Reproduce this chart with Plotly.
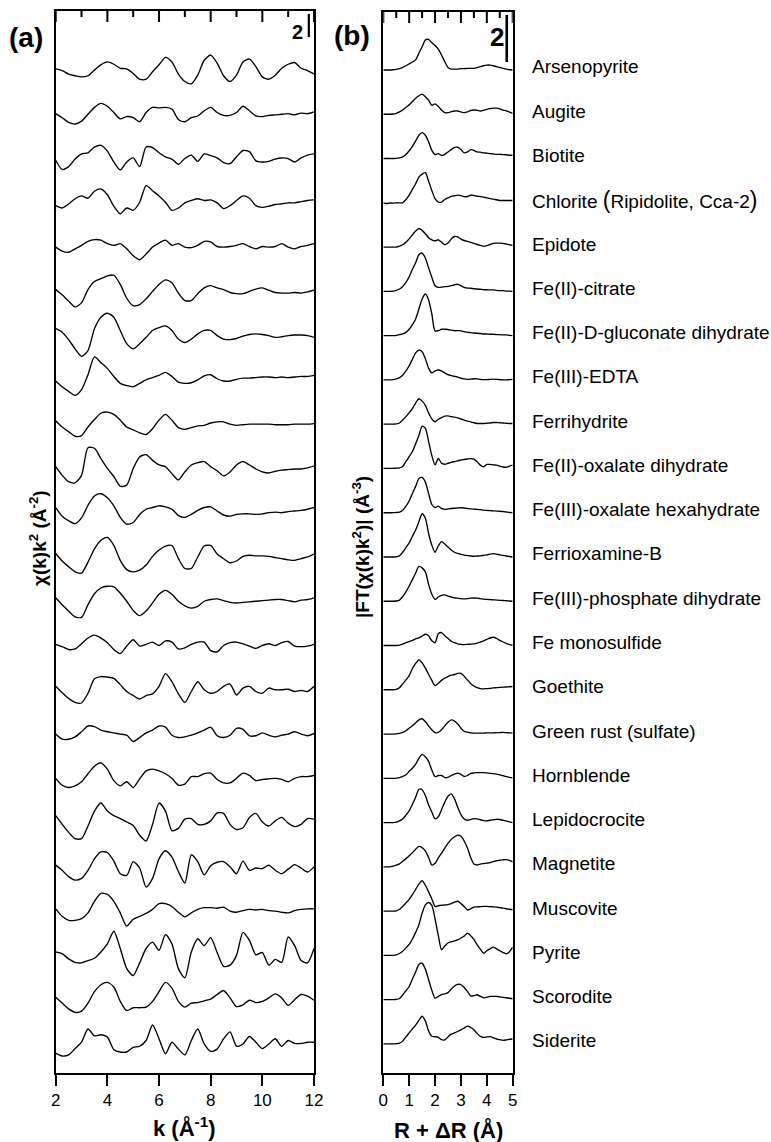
import plotly.graph_objects as go

# ---------------------------------------------------------------------------
# Sample grids
# ---------------------------------------------------------------------------
K_GRID = [2.0, 2.25, 2.5, 2.75, 3.0, 3.25, 3.5, 3.75, 4.0, 4.25, 4.5, 4.75,
          5.0, 5.25, 5.5, 5.75, 6.0, 6.25, 6.5, 6.75, 7.0, 7.25, 7.5, 7.75,
          8.0, 8.25, 8.5, 8.75, 9.0, 9.25, 9.5, 9.75, 10.0, 10.25, 10.5, 10.75,
          11.0, 11.25, 11.5, 11.75, 12.0]

R_GRID = [0.0, 0.125, 0.25, 0.375, 0.5, 0.625, 0.75, 0.875, 1.0, 1.125, 1.25,
          1.375, 1.5, 1.625, 1.75, 1.875, 2.0, 2.125, 2.25, 2.375, 2.5, 2.625,
          2.75, 2.875, 3.0, 3.125, 3.25, 3.375, 3.5, 3.625, 3.75, 3.875, 4.0,
          4.125, 4.25, 4.375, 4.5, 4.625, 4.75, 4.875, 5.0]

NAMES = [
    "Arsenopyrite", "Augite", "Biotite",
    'Chlorite <span style="font-size:23px">(</span>Ripidolite, Cca-2<span style="font-size:23px">)</span>',
    "Epidote", "Fe(II)-citrate", "Fe(II)-D-gluconate dihydrate", "Fe(III)-EDTA",
    "Ferrihydrite", "Fe(II)-oxalate dihydrate", "Fe(III)-oxalate hexahydrate",
    "Ferrioxamine-B", "Fe(III)-phosphate dihydrate", "Fe monosulfide", "Goethite",
    "Green rust (sulfate)", "Hornblende", "Lepidocrocite", "Magnetite",
    "Muscovite", "Pyrite", "Scorodite", "Siderite",
]

# ---------------------------------------------------------------------------
# k^2-weighted EXAFS, chi(k)k^2 (A^-2)
# ---------------------------------------------------------------------------
CHI_ARSENOPYRITE = [0.1, -0.05, -0.35, -0.5, -0.6, -0.5, 0, 0.45, 0.7, 0.5, 0.15, 0.1, -0.3, -0.8, -0.8, -0.15, 0.45, 1.1, 0.7, -0.35, -1.0, -1.2, -0.45, 0.85, 1.3, 0.6, -0.5, -1.0, -0.45, 0.7, 0.95, 0.3, -0.6, -0.8, -0.45, 0.15, 0.5, 0.65, 0.15, -0.05, -0.35]
CHI_AUGITE = [0.05, -0.3, -0.7, -0.85, -0.6, 0, 0.6, 0.95, 0.7, 0.15, -0.4, -0.2, -0.3, -0.65, 0.15, 0.6, 0.55, 0.6, 0.45, -0.45, -0.65, -0.3, -0.15, 0.3, 0.6, 0.15, -0.1, -0.1, 0.15, 0.7, 0.3, -0.15, -0.2, -0.1, -0.05, 0, 0.05, -0.05, 0.1, 0.05, 0.2]
CHI_BIOTITE = [-0.15, -0.95, -0.7, -0.05, 0.4, 0.5, 1.0, 1.15, 0.65, -0.3, -1.0, -0.3, 0.05, -0.7, 1.0, 0.95, 0.5, 0.15, -0.05, -0.5, 0, 0.3, -0.25, 0.4, 0.25, 0.05, -0.35, -0.45, 0.15, 0.7, 0.6, -0.2, -0.3, -0.25, -0.05, 0.05, 0, -0.3, 0.05, 0.3, 0.4]
CHI_CHLORITE = [-0.25, -0.45, -0.1, 0.35, 0.6, 0.4, 1.0, 1.2, 0.7, -0.3, -0.95, -0.45, -0.65, 0.05, 1.5, 1.05, 0.6, 0.05, -0.65, -0.45, 0, 0.2, 0.35, 0.2, 0.25, 0, -0.5, -0.25, 0.2, 0.6, 0.4, -0.25, -0.4, -0.3, -0.15, -0.1, 0, 0, 0.1, 0.2, 0.25]
CHI_EPIDOTE = [0, -0.35, -0.45, -0.15, 0.15, 0.5, 0.65, 0.6, 0.3, 0.15, 0.3, -0.15, -0.75, -1.1, -0.6, 0, 0.35, 0.6, 0.15, 0.3, 0, -0.05, 0.15, 0.5, 0.45, 0.05, 0, 0.05, 0.15, 0.3, 0.05, -0.15, 0.05, 0, 0.05, 0.3, 0, -0.15, 0.05, 0.15, 0.3]
CHI_FE2_CITRATE = [0.15, -0.3, -0.85, -1.35, -1.0, 0.15, 0.85, 1.1, 1.35, 1.4, 0.6, -0.6, -1.25, -1.15, -0.65, 0, 0.6, 1.0, 0.75, -0.15, -0.8, -0.8, -0.2, 0.3, 0.5, 0.3, 0.15, -0.1, -0.2, -0.2, 0, 0.2, 0.3, 0.1, -0.1, -0.15, -0.15, -0.1, -0.15, -0.05, 0.1]
CHI_FE2_GLUCONATE = [0.6, 0.3, -0.35, -1.15, -1.8, -1.3, 0.6, 1.6, 1.95, 1.6, 0.45, -0.7, -1.15, -0.7, -0.15, 0.45, 0.7, 0.85, 0.45, -0.3, -0.6, -0.3, 0.15, 0.45, 0.45, 0, -0.3, -0.35, -0.25, -0.05, 0.1, 0.15, 0.1, 0, -0.15, -0.1, 0, 0.05, 0.05, 0, -0.15]
CHI_FE3_EDTA = [-0.1, -0.6, -1.0, -1.35, -0.85, 0.45, 2.0, 1.5, 1.0, 0.3, -0.3, -0.5, -0.6, -0.3, 0, 0.2, 0.4, 0.65, 0.3, -0.2, -0.3, -0.25, 0, 0.35, 0.45, 0.1, -0.1, -0.1, 0.05, 0.15, 0.15, 0.2, 0.25, 0.25, 0.2, 0.25, 0.2, 0.25, 0.3, 0.3, 0.4]
CHI_FERRIHYDRITE = [0.3, -0.25, -0.65, -1.05, -1.0, -0.25, 0.4, 0.95, 1.05, 0.85, 0.35, -0.25, -0.5, -0.75, -0.9, -0.4, 0.35, 0.85, 0.35, -0.3, -0.45, -0.3, -0.15, -0.1, 0.1, 0.2, 0.2, 0, -0.1, -0.05, 0, 0, 0, 0, -0.05, -0.05, -0.05, 0, 0, 0, 0.05]
CHI_FE2_OXALATE = [0.15, -0.6, -1.15, -1.25, -0.6, 1.8, 1.75, 0.85, 0, -0.7, -1.55, -1.45, 0, 1.0, 1.2, 0.7, 0.3, 0.15, -0.45, -1.0, -0.3, 0.3, 0.5, 0.6, 0.15, -0.2, -0.65, -0.3, 0.3, 0.6, 0.3, -0.05, -0.3, -0.4, -0.25, -0.15, -0.1, -0.05, -0.05, 0.05, 0.2]
CHI_FE3_OXALATE = [0.45, -0.3, -0.7, -0.95, -0.45, 0.65, 1.45, 1.65, 1.3, 0.6, -0.4, -1.0, -0.85, -0.15, 0.3, 0.45, 0.6, 0.5, 0.3, -0.25, -0.4, -0.15, 0.2, 0.45, 0.5, 0.15, -0.2, -0.3, -0.15, -0.1, -0.1, -0.15, -0.1, 0, 0.05, 0, 0.1, 0.15, 0.2, 0.3, 0.45]
CHI_FERRIOXAMINE = [0.3, -0.35, -0.85, -1.3, -1.4, -0.45, 0.7, 1.45, 1.7, 1.0, -0.3, -1.1, -1.3, -1.15, -0.7, 0.05, 0.6, 0.95, 1.0, -0.15, -1.0, -1.0, 0, 0.95, 1.0, 0.25, -0.15, -0.5, -0.35, 0.05, 0.15, 0.1, 0.1, 0.05, -0.05, -0.15, -0.25, -0.3, -0.15, 0, 0.25]
CHI_FE3_PHOSPHATE = [0.3, -0.3, -0.85, -1.35, -1.4, -0.3, 0.65, 1.15, 1.3, 1.25, 0.7, 0, -0.8, -1.25, -0.85, -0.15, 0.6, 0.95, 0.6, 0, -0.4, -0.6, -0.45, 0, 0.15, 0.2, 0.05, -0.1, -0.15, -0.1, -0.05, 0, 0.05, 0.1, 0.15, 0.15, 0.05, -0.05, 0.1, 0.15, 0.3]
CHI_FE_MONOSULFIDE = [0.1, -0.1, -0.35, -0.3, 0.15, 0.65, 0.9, 0.65, 0.25, -0.35, -0.7, -0.05, 0.5, -0.05, 0.1, 0.3, 0, 0.4, 0.3, -0.3, -0.2, 0.1, 0.3, 0.3, -0.45, -0.55, 0, 0.25, 0.3, 0.15, -0.05, -0.25, 0, 0.15, 0, 0.25, 0.35, -0.05, -0.1, -0.05, 0.1]
CHI_GOETHITE = [0.3, -0.25, -0.75, -1.1, -1.15, -0.3, 0.95, 1.15, 1.1, 1.0, 0.45, -0.15, -0.5, -0.8, -0.5, -0.35, 0.3, 1.4, 0.7, -0.35, -1.1, -0.15, 0.7, 0, -0.3, -0.15, 0.3, 0.5, -0.45, 0.15, 0.3, -0.15, -0.3, 0.15, 0, 0, 0.05, -0.15, -0.05, -0.15, 0.3]
CHI_GREEN_RUST = [0, -0.45, -0.45, -0.25, 0.2, 0.7, 0.65, 0.35, 0.2, 0.1, 0, -0.1, -0.65, -0.3, 0.1, 0.35, 0.7, 0.6, -0.1, -0.3, -0.25, -0.1, 0.1, 0.35, 0.6, -0.15, -0.3, -0.1, 0.5, 0.4, -0.15, -0.15, 0.1, -0.1, -0.25, -0.1, 0, 0.2, 0, -0.15, 0.05]
CHI_HORNBLENDE = [0, -0.6, -0.8, -0.65, -0.3, 0.4, 1.05, 1.35, 0.8, -0.2, -0.65, -0.3, -0.8, -0.05, 0.65, 0.8, 0.65, 0.4, 0, -0.6, -0.5, 0.15, 0.15, 0.4, 0.45, -0.1, -0.4, -0.4, 0, 0.45, 0.25, -0.2, -0.1, -0.05, 0, -0.1, -0.3, 0, 0.15, 0.15, 0.25]
CHI_LEPIDOCROCITE = [0.6, -0.15, -0.85, -1.4, -1.4, -0.3, 1.0, 1.7, 1.0, 0.6, 0.35, 0.05, -0.25, -1.1, -1.6, -0.15, 1.7, 1.0, -0.7, -0.5, 0.3, 0.35, -0.15, -0.15, 0.15, 0.85, 0.8, -0.15, -0.6, -0.45, 0.45, 0.8, 0.05, -0.3, 0.15, 0.45, -0.05, -0.35, -0.15, 0.35, 0.3]
CHI_MAGNETITE = [0.15, -0.3, -0.85, -1.15, -1.0, -0.3, 0.7, 1.3, 1.25, 0.5, -0.6, -0.75, 0.45, -0.1, -1.75, -1.0, 0.7, 1.4, 0.85, -0.4, -1.4, 1.05, 0.45, -0.7, 0.1, 0.4, 0.45, 0, -0.6, 0.5, -0.3, -0.1, -0.15, 0.15, -0.3, -0.6, -0.2, 0.2, -0.1, -0.45, 0]
CHI_MUSCOVITE = [0.2, -0.45, -0.8, -0.8, -0.65, -0.15, 0.85, 1.55, 1.45, 0.85, -0.15, -1.3, -0.7, -0.45, -0.2, 0.15, 0.65, 0.65, 0.4, -0.1, -0.5, -0.15, 0.15, 0.3, 0.3, 0.25, 0.35, 0, -0.1, 0.05, 0.15, 0.1, 0.15, 0.05, 0, -0.1, -0.15, 0.05, 0.15, 0.2, 0.2]
CHI_PYRITE = [0.3, 0.15, -0.3, -0.6, -0.65, -0.45, -0.25, 0.3, 1.0, 2.1, 0.6, -1.15, -1.75, -0.65, 0.6, 1.15, 0.45, 1.8, 1.0, -1.15, -1.95, 0.3, 1.45, 0.85, 1.55, 0.25, -0.95, -0.85, 0, 2.0, 1.3, 0.05, 0.25, -0.85, -0.35, -0.6, 1.6, 0.85, -0.45, -0.65, 0.6]
CHI_SCORODITE = [0.2, -0.3, -0.8, -1.1, -1.0, -0.3, 0.7, 1.3, 1.5, 1.1, -0.15, -0.95, -0.7, -0.7, -0.65, -0.15, 0.7, 1.5, 1.0, -0.15, -0.65, -0.3, -0.25, -0.1, 0.05, 0.45, 0.8, 0.15, -0.6, -0.45, -0.05, -0.25, -0.15, 0.15, 0.5, 0.15, -0.5, 0, 0.45, 0.3, -0.05]
CHI_SIDERITE = [-0.8, -1.05, -0.95, -0.4, 0.15, 1.3, 0.7, 0.8, 0.6, -0.5, -0.7, -0.7, -0.3, -0.2, 0.3, 1.65, 0.45, -0.85, 0.15, -0.45, -0.95, 0.3, 1.3, 0, -0.65, -0.45, 0.45, 1.05, -0.2, 0, 0.65, 0.15, -0.4, 0, 0.45, -0.2, 0.3, 0.05, 0.05, 0.15, 0.15]

# ---------------------------------------------------------------------------
# Fourier-transform magnitudes, |FT(chi(k)k^2)| (A^-3)
# ---------------------------------------------------------------------------
FT_ARSENOPYRITE = [0, 0, 0, 0.01, 0.03, 0.06, 0.11, 0.18, 0.26, 0.34, 0.43, 0.71, 0.99, 1.28, 1.3, 1.16, 1.04, 0.89, 0.64, 0.35, 0.11, 0.04, 0.04, 0.04, 0.06, 0.06, 0.07, 0.07, 0.07, 0.1, 0.14, 0.18, 0.21, 0.21, 0.18, 0.14, 0.11, 0.07, 0.04, 0.01, 0]
FT_AUGITE = [0, 0, 0, 0.01, 0.04, 0.1, 0.18, 0.3, 0.4, 0.54, 0.68, 0.79, 0.86, 0.75, 0.6, 0.38, 0.44, 0.33, 0.18, 0.07, 0.07, 0.11, 0.14, 0.14, 0.1, 0.07, 0.1, 0.16, 0.18, 0.17, 0.14, 0.17, 0.21, 0.24, 0.26, 0.26, 0.23, 0.18, 0.14, 0.09, 0.04]
FT_BIOTITE = [0, 0, 0, 0, 0.01, 0.03, 0.07, 0.17, 0.33, 0.52, 0.75, 0.99, 1.1, 0.99, 0.71, 0.35, 0.17, 0.21, 0.13, 0.18, 0.28, 0.38, 0.47, 0.48, 0.38, 0.24, 0.28, 0.38, 0.35, 0.28, 0.27, 0.24, 0.23, 0.21, 0.2, 0.18, 0.18, 0.17, 0.16, 0.14, 0.14]
FT_CHLORITE = [0, -0.03, -0.01, -0.01, 0, 0, 0, 0.14, 0.33, 0.57, 0.81, 1.09, 1.22, 1.28, 0.92, 0.52, 0.18, 0.03, 0.03, 0.14, 0.21, 0.27, 0.3, 0.33, 0.31, 0.26, 0.27, 0.33, 0.31, 0.28, 0.27, 0.24, 0.21, 0.18, 0.16, 0.13, 0.1, 0.1, 0.1, 0.1, 0.1]
FT_EPIDOTE = [0, 0, 0, 0, 0, 0.04, 0.1, 0.21, 0.35, 0.52, 0.68, 0.79, 0.71, 0.57, 0.4, 0.31, 0.27, 0.31, 0.21, 0.1, 0.17, 0.35, 0.45, 0.43, 0.34, 0.28, 0.24, 0.2, 0.16, 0.11, 0.07, 0.03, 0.06, 0.11, 0.16, 0.17, 0.17, 0.16, 0.13, 0.1, 0.07]
FT_FE2_CITRATE = [0, 0, 0, 0.01, 0.04, 0.1, 0.21, 0.38, 0.62, 0.94, 1.22, 1.56, 1.63, 1.42, 1.0, 0.6, 0.24, 0.17, 0.18, 0.2, 0.21, 0.24, 0.28, 0.3, 0.24, 0.17, 0.14, 0.13, 0.11, 0.1, 0.09, 0.07, 0.07, 0.06, 0.06, 0.04, 0.03, 0.03, 0.01, 0.01, 0]
FT_FE2_GLUCONATE = [0, 0, 0, 0, 0.01, 0.04, 0.07, 0.14, 0.27, 0.47, 0.71, 1.13, 1.56, 1.77, 1.52, 0.92, 0.2, 0.21, 0.27, 0.27, 0.26, 0.23, 0.21, 0.21, 0.2, 0.17, 0.14, 0.13, 0.11, 0.1, 0.09, 0.07, 0.07, 0.06, 0.06, 0.04, 0.04, 0.03, 0.03, 0.01, 0]
FT_FE3_EDTA = [0, 0, 0, 0.01, 0.04, 0.1, 0.2, 0.38, 0.6, 0.88, 1.15, 1.27, 1.2, 0.9, 0.5, 0.3, 0.38, 0.42, 0.38, 0.3, 0.22, 0.18, 0.15, 0.12, 0.07, 0.04, 0.02, 0.03, 0.05, 0.04, 0.02, 0.01, 0.01, 0.02, 0.03, 0.02, 0.01, 0, 0, 0.01, 0.02]
FT_FERRIHYDRITE = [0, 0, 0, 0, 0.01, 0.05, 0.18, 0.32, 0.49, 0.66, 0.9, 1.08, 0.98, 0.8, 0.48, 0.22, 0.1, 0.21, 0.28, 0.34, 0.35, 0.32, 0.3, 0.27, 0.22, 0.17, 0.13, 0.1, 0.06, 0.03, 0.03, 0.03, 0.04, 0.05, 0.07, 0.07, 0.06, 0.05, 0.04, 0.03, 0.03]
FT_FE2_OXALATE = [0, 0, 0, 0, 0.01, 0.02, 0.08, 0.3, 0.5, 0.72, 1.05, 1.4, 1.8, 1.7, 1.15, 0.55, 0.15, 0.43, 0.22, 0.18, 0.22, 0.26, 0.29, 0.32, 0.36, 0.38, 0.4, 0.42, 0.4, 0.28, 0.14, 0.07, 0.17, 0.17, 0.15, 0.14, 0.1, 0.06, 0.05, 0.1, 0.14]
FT_FE3_OXALATE = [0, 0, 0, 0, 0.01, 0.02, 0.1, 0.28, 0.5, 0.82, 1.12, 1.45, 1.5, 1.3, 0.82, 0.35, 0.22, 0.28, 0.18, 0.14, 0.16, 0.18, 0.19, 0.2, 0.21, 0.2, 0.18, 0.16, 0.15, 0.14, 0.13, 0.11, 0.1, 0.09, 0.08, 0.07, 0.06, 0.05, 0.03, 0.01, 0]
FT_FERRIOXAMINE = [0, 0, 0, 0, 0.01, 0.05, 0.2, 0.4, 0.6, 0.88, 1.15, 1.5, 1.84, 1.65, 1.0, 0.5, 0.2, 0.47, 0.65, 0.55, 0.42, 0.3, 0.2, 0.15, 0.11, 0.08, 0.06, 0.04, 0.03, 0.04, 0.05, 0.07, 0.09, 0.12, 0.14, 0.12, 0.09, 0.07, 0.04, 0.02, 0]
FT_FE3_PHOSPHATE = [0, 0, 0, 0, 0.01, 0.05, 0.2, 0.4, 0.65, 0.92, 1.2, 1.48, 1.42, 1.25, 0.72, 0.3, 0.08, 0.18, 0.25, 0.27, 0.22, 0.18, 0.15, 0.13, 0.11, 0.1, 0.11, 0.13, 0.14, 0.13, 0.11, 0.09, 0.08, 0.07, 0.06, 0.05, 0.04, 0.03, 0.02, 0.01, 0]
FT_FE_MONOSULFIDE = [0, 0, 0, 0, 0, 0.02, 0.06, 0.12, 0.17, 0.22, 0.28, 0.33, 0.4, 0.48, 0.42, 0.2, 0.12, 0.5, 0.55, 0.42, 0.3, 0.18, 0.12, 0.07, 0.05, 0.04, 0.05, 0.06, 0.07, 0.1, 0.15, 0.2, 0.26, 0.32, 0.35, 0.3, 0.22, 0.15, 0.09, 0.04, 0.01]
FT_GOETHITE = [0, 0, 0, 0, 0.02, 0.09, 0.25, 0.42, 0.6, 0.9, 1.12, 1.27, 1.15, 0.92, 0.66, 0.4, 0.18, 0.27, 0.4, 0.5, 0.56, 0.62, 0.65, 0.7, 0.7, 0.58, 0.42, 0.27, 0.16, 0.09, 0.05, 0.04, 0.05, 0.06, 0.08, 0.09, 0.1, 0.11, 0.12, 0.13, 0.14]
FT_GREEN_RUST = [0, 0, 0, 0, 0.01, 0.03, 0.07, 0.14, 0.25, 0.35, 0.48, 0.6, 0.65, 0.52, 0.35, 0.18, 0.06, 0.07, 0.18, 0.35, 0.5, 0.6, 0.55, 0.43, 0.25, 0.12, 0.08, 0.05, 0.04, 0.04, 0.04, 0.04, 0.05, 0.05, 0.05, 0.06, 0.06, 0.07, 0.06, 0.05, 0.04]
FT_HORNBLENDE = [0, 0, 0, 0, 0.01, 0.03, 0.08, 0.15, 0.3, 0.43, 0.6, 0.85, 1.02, 0.92, 0.72, 0.35, 0.07, 0.12, 0.12, 0.03, 0.04, 0.12, 0.18, 0.22, 0.17, 0.08, 0.12, 0.21, 0.23, 0.24, 0.24, 0.24, 0.23, 0.21, 0.2, 0.18, 0.15, 0.11, 0.07, 0.04, 0.02]
FT_LEPIDOCROCITE = [0, 0, 0, 0, 0.02, 0.07, 0.15, 0.32, 0.5, 0.78, 1.08, 1.42, 1.4, 1.15, 0.75, 0.45, 0.16, 0.25, 0.55, 0.87, 1.12, 1.22, 1.02, 0.65, 0.34, 0.15, 0.1, 0.13, 0.17, 0.16, 0.12, 0.09, 0.07, 0.1, 0.12, 0.14, 0.13, 0.1, 0.07, 0.03, 0]
FT_MAGNETITE = [0, 0, 0, 0.03, 0.07, 0.13, 0.24, 0.35, 0.47, 0.6, 0.75, 0.87, 0.82, 0.68, 0.4, 0.08, 0.15, 0.38, 0.58, 0.8, 1.0, 1.17, 1.28, 1.35, 1.3, 1.1, 0.8, 0.4, 0.12, 0.08, 0.12, 0.14, 0.16, 0.18, 0.22, 0.26, 0.28, 0.3, 0.31, 0.28, 0.21]
FT_MUSCOVITE = [0, 0, 0, 0, 0.01, 0.08, 0.2, 0.35, 0.5, 0.7, 0.92, 1.15, 1.3, 1.1, 0.82, 0.52, 0.2, 0.23, 0.25, 0.26, 0.28, 0.32, 0.38, 0.42, 0.32, 0.2, 0.05, 0.1, 0.17, 0.18, 0.19, 0.2, 0.2, 0.19, 0.18, 0.17, 0.15, 0.13, 0.1, 0.08, 0.06]
FT_PYRITE = [0, 0, 0, 0, 0.02, 0.08, 0.18, 0.32, 0.47, 0.7, 0.98, 1.3, 1.8, 2.15, 2.25, 2.13, 1.55, 0.85, 0.24, 0.4, 0.53, 0.58, 0.62, 0.66, 0.74, 0.82, 0.95, 0.84, 0.68, 0.45, 0.27, 0.09, 0.2, 0.28, 0.35, 0.28, 0.2, 0.12, 0.07, 0.16, 0.35]
FT_SCORODITE = [0, 0, 0, 0, 0.01, 0.05, 0.2, 0.38, 0.56, 0.88, 1.18, 1.5, 1.55, 1.3, 0.85, 0.4, 0.07, 0.14, 0.21, 0.25, 0.3, 0.45, 0.58, 0.65, 0.64, 0.52, 0.35, 0.16, 0.17, 0.21, 0.14, 0.08, 0.1, 0.14, 0.14, 0.14, 0.12, 0.1, 0.08, 0.06, 0.04]
FT_SIDERITE = [0, 0, 0, 0, 0.01, 0.03, 0.12, 0.3, 0.47, 0.64, 0.8, 1.0, 1.18, 0.98, 0.55, 0.33, 0.31, 0.28, 0.18, 0.17, 0.3, 0.42, 0.47, 0.53, 0.6, 0.68, 0.76, 0.7, 0.6, 0.45, 0.32, 0.28, 0.3, 0.31, 0.26, 0.21, 0.18, 0.15, 0.17, 0.2, 0.21]

CHI_SERIES = [CHI_ARSENOPYRITE, CHI_AUGITE, CHI_BIOTITE, CHI_CHLORITE, CHI_EPIDOTE,
              CHI_FE2_CITRATE, CHI_FE2_GLUCONATE, CHI_FE3_EDTA, CHI_FERRIHYDRITE,
              CHI_FE2_OXALATE, CHI_FE3_OXALATE, CHI_FERRIOXAMINE, CHI_FE3_PHOSPHATE,
              CHI_FE_MONOSULFIDE, CHI_GOETHITE, CHI_GREEN_RUST, CHI_HORNBLENDE,
              CHI_LEPIDOCROCITE, CHI_MAGNETITE, CHI_MUSCOVITE, CHI_PYRITE,
              CHI_SCORODITE, CHI_SIDERITE]
FT_SERIES = [FT_ARSENOPYRITE, FT_AUGITE, FT_BIOTITE, FT_CHLORITE, FT_EPIDOTE,
             FT_FE2_CITRATE, FT_FE2_GLUCONATE, FT_FE3_EDTA, FT_FERRIHYDRITE,
             FT_FE2_OXALATE, FT_FE3_OXALATE, FT_FERRIOXAMINE, FT_FE3_PHOSPHATE,
             FT_FE_MONOSULFIDE, FT_GOETHITE, FT_GREEN_RUST, FT_HORNBLENDE,
             FT_LEPIDOCROCITE, FT_MAGNETITE, FT_MUSCOVITE, FT_PYRITE,
             FT_SCORODITE, FT_SIDERITE]

for s in CHI_SERIES:
    assert len(s) == len(K_GRID), len(s)
for s in FT_SERIES:
    assert len(s) == len(R_GRID), len(s)

SCALE_BAR = 2.0  # length of the vertical scale bars, in y units

# axis ranges and tick spacing
K_RANGE, K_MAJOR, K_MINOR = (2, 12), 2, 1
R_RANGE, R_MAJOR, R_MINOR = (0, 5), 1, 0.5

# ---------------------------------------------------------------------------
# Page geometry (pixels)
# ---------------------------------------------------------------------------
W, H = 771, 1142
FONT = "Liberation Sans, Arial, sans-serif"

A_L, A_R, A_T, A_B = 55.7, 314.0, 11.0, 1073.0     # chi(k) panel frame
B_L, B_R, B_T, B_B = 383.3, 512.7, 12.0, 1073.0    # FT panel frame
BASE0 = 70.0          # zero line of the first spectrum
ROW = 44.27           # vertical distance between stacked spectra
CHI_PX = 11.5         # pixels per chi(k)k^2 unit
FT_PX = 23.5          # pixels per |FT| unit
MAJOR_LEN, MINOR_LEN = 11, 6
TICK_COLOR = "black"

chi_step = ROW / CHI_PX
ft_step = ROW / FT_PX
chi_range = [-(A_B - BASE0) / CHI_PX, (BASE0 - A_T) / CHI_PX]
ft_range = [-(B_B - BASE0) / FT_PX, (BASE0 - B_T) / FT_PX]


def px(x):
    return x / W


def py(y):
    return 1 - y / H


fig = go.Figure()

line_style = dict(color="black", width=1.35, shape="spline", smoothing=0.7)

for i, vals in enumerate(CHI_SERIES):
    fig.add_trace(go.Scatter(
        x=K_GRID, y=[v - i * chi_step for v in vals], mode="lines",
        line=line_style, xaxis="x", yaxis="y", showlegend=False, hoverinfo="skip"))

for i, vals in enumerate(FT_SERIES):
    fig.add_trace(go.Scatter(
        x=R_GRID, y=[v - i * ft_step for v in vals], mode="lines",
        line=line_style, xaxis="x2", yaxis="y2", showlegend=False, hoverinfo="skip"))

# scale bars
bar_top_chi = (BASE0 - 14.0) / CHI_PX
bar_top_ft = (BASE0 - 15.0) / FT_PX
fig.add_trace(go.Scatter(x=[11.8, 11.8], y=[bar_top_chi, bar_top_chi - SCALE_BAR],
                         mode="lines", line=dict(color="black", width=2.2),
                         xaxis="x", yaxis="y", showlegend=False, hoverinfo="skip"))
fig.add_trace(go.Scatter(x=[4.77, 4.77], y=[bar_top_ft, bar_top_ft - SCALE_BAR],
                         mode="lines", line=dict(color="black", width=2.6),
                         xaxis="x2", yaxis="y2", showlegend=False, hoverinfo="skip"))


# tick marks (outward at the bottom frame edge, inward at the top edge),
# drawn as unclipped line segments in each panel's own data coordinates
def tick_values(rng, step):
    vals, v = [], rng[0]
    while v <= rng[1] + 1e-9:
        vals.append(v)
        v += step
    return vals


for xa, ya, rng, major, minor, yrng, unit in (
        ("x", "y", K_RANGE, K_MAJOR, K_MINOR, chi_range, CHI_PX),
        ("x2", "y2", R_RANGE, R_MAJOR, R_MINOR, ft_range, FT_PX)):
    for v in tick_values(rng, minor):
        is_major = abs((v - rng[0]) / major - round((v - rng[0]) / major)) < 1e-6
        length = (MAJOR_LEN if is_major else MINOR_LEN) / unit
        for y0, y1 in ((yrng[0], yrng[0] - length), (yrng[1], yrng[1] - length)):
            fig.add_trace(go.Scatter(x=[v, v], y=[y0, y1], mode="lines",
                                     cliponaxis=False,
                                     line=dict(color=TICK_COLOR, width=2),
                                     xaxis=xa, yaxis=ya, showlegend=False,
                                     hoverinfo="skip"))

frame = dict(showgrid=False, zeroline=False, showline=True, linecolor="black",
             linewidth=2, mirror=True)
tickfont = dict(family=FONT, size=17, color="black")

fig.update_layout(
    width=W, height=H, autosize=False,
    margin=dict(l=0, r=0, t=0, b=0, autoexpand=False),
    paper_bgcolor="white", plot_bgcolor="white",
    font=dict(family=FONT, color="black"),
    xaxis=dict(domain=[px(A_L), px(A_R)], range=list(K_RANGE), anchor="y",
               ticks="outside", ticklen=MAJOR_LEN, tickwidth=2, tickcolor=TICK_COLOR,
               tickmode="linear", tick0=K_RANGE[0], dtick=K_MAJOR,
               tickfont=tickfont, **frame),
    yaxis=dict(domain=[py(A_B), py(A_T)], range=chi_range, anchor="x",
               showticklabels=False, ticks="", **frame),
    xaxis2=dict(domain=[px(B_L), px(B_R)], range=list(R_RANGE), anchor="y2",
                ticks="outside", ticklen=MAJOR_LEN, tickwidth=2, tickcolor=TICK_COLOR,
                tickmode="linear", tick0=R_RANGE[0], dtick=R_MAJOR,
                tickfont=tickfont, **frame),
    yaxis2=dict(domain=[py(B_B), py(B_T)], range=ft_range, anchor="x2",
                showticklabels=False, ticks="", **frame),
)

ann = []
# sample names next to the FT panel
for i, name in enumerate(NAMES):
    ann.append(dict(text=name, xref="paper", x=px(530), xanchor="left",
                    yref="y2", y=-i * ft_step + 3.0 / FT_PX, yanchor="middle",
                    showarrow=False, font=dict(family=FONT, size=19, color="black")))


def label(text, x, y, size, xref="paper", yref="paper", angle=0):
    return dict(text=text, xref=xref, yref=yref, x=x, y=y, xanchor="center",
                yanchor="middle", textangle=angle, showarrow=False,
                font=dict(family=FONT, size=size, color="black"))


# scale bar labels
ann.append(label("<b>2</b>", 11.36, (BASE0 - 32.0) / CHI_PX, 20, "x", "y"))
ann.append(label("<b>2</b>", 4.41, (BASE0 - 37.5) / FT_PX, 26, "x2", "y2"))

# panel letters
ann.append(label("<b>(a)</b>", px(26), py(37), 28))
ann.append(label("<b>(b)</b>", px(352), py(36), 28))

# axis titles
ann.append(label("<b>k (Å<sup>-1</sup>)</b>", px(184), py(1127), 22))
ann.append(label("<b>R + ΔR (Å)</b>", px(448), py(1130), 22))
ann.append(label("<b>χ(k)k<sup>2</sup> (Å<sup>-2</sup>)</b>", px(38), py(538), 19, angle=-90))
ann.append(label("<b>|FT(χ(k)k<sup>2</sup>)| (Å<sup>-3</sup>)</b>", px(361), py(547), 19, angle=-90))

fig.update_layout(annotations=ann)

fig.write_html("out.html")
